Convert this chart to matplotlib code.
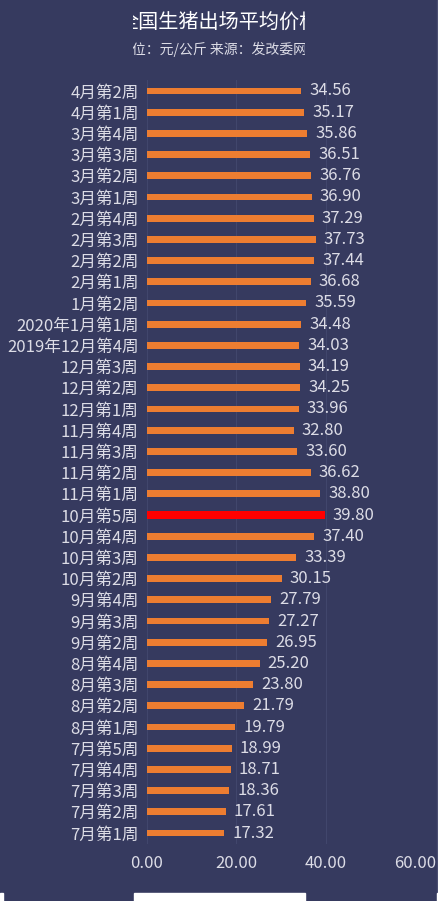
import matplotlib
matplotlib.use('Agg')
import matplotlib.pyplot as plt
from matplotlib.patches import Rectangle

plt.rcParams['font.family'] = ['Noto Sans CJK SC', 'DejaVu Sans']

# weeks from top to bottom as shown
weeks = ['4月第2周', '4月第1周', '3月第4周', '3月第3周', '3月第2周', '3月第1周',
         '2月第4周', '2月第3周', '2月第2周', '2月第1周', '1月第2周', '2020年1月第1周',
         '2019年12月第4周', '12月第3周', '12月第2周', '12月第1周', '11月第4周', '11月第3周',
         '11月第2周', '11月第1周', '10月第5周', '10月第4周', '10月第3周', '10月第2周',
         '9月第4周', '9月第3周', '9月第2周', '8月第4周', '8月第3周', '8月第2周',
         '8月第1周', '7月第5周', '7月第4周', '7月第3周', '7月第2周', '7月第1周']
prices = [34.56, 35.17, 35.86, 36.51, 36.76, 36.90, 37.29, 37.73, 37.44, 36.68,
          35.59, 34.48, 34.03, 34.19, 34.25, 33.96, 32.80, 33.60, 36.62, 38.80,
          39.80, 37.40, 33.39, 30.15, 27.79, 27.27, 26.95, 25.20, 23.80, 21.79,
          19.79, 18.99, 18.71, 18.36, 17.61, 17.32]
highlight = '10月第5周'
xticks = [0, 20, 40, 60]

bg = '#363a5f'
txt = '#dcdce6'

fig = plt.figure(figsize=(4.39, 9.01), dpi=100, facecolor=bg)
ax = fig.add_axes([147 / 439, 1 - 843.6 / 901, 268 / 439, 763.2 / 901])
ax.set_facecolor(bg)

ypos = list(range(len(weeks)))
colors = ['#ff0000' if w == highlight else '#ed7d31' for w in weeks]
heights = [0.40 if w == highlight else 0.33 for w in weeks]
ax.barh(ypos, prices, height=heights, color=colors, zorder=3)
for y, v in zip(ypos, prices):
    ax.text(v + 1.8, y, '%.2f' % v, va='center', ha='left', color=txt, fontsize=12)

ax.set_ylim(len(weeks) - 0.5, -0.5)
ax.set_xlim(0, 60)
ax.set_yticks(ypos)
ax.set_yticklabels(weeks, color=txt, fontsize=12)
ax.set_xticks(xticks)
ax.set_xticklabels(['%.2f' % t for t in xticks], color=txt, fontsize=12)
ax.tick_params(length=0, pad=6)
ax.tick_params(axis='x', pad=8)
for s in ax.spines.values():
    s.set_visible(False)
ax.grid(axis='x', color='#41466c', linewidth=0.8, zorder=0)

# title and subtitle, cropped at both sides as in the picture
clip = Rectangle((133 / 439, 0), 172 / 439, 1, transform=fig.transFigure)
t1 = fig.text(0.50, 1 - 22 / 901, '全国生猪出场平均价格', ha='center', va='center',
              color='white', fontsize=14.5)
t2 = fig.text(0.50, 1 - 49 / 901, '单位：元/公斤 来源：发改委网站', ha='center', va='center',
              color=txt, fontsize=10)
t1.set_clip_path(clip)
t2.set_clip_path(clip)

# white strip at the very bottom
for x0, w in [(0, 3), (134, 171), (437, 2)]:
    fig.patches.append(Rectangle((x0 / 439, 0), w / 439, 8 / 901, transform=fig.transFigure,
                                 color='white', zorder=5))
fig.patches.append(Rectangle((437 / 439, 0), 2 / 439, 1, transform=fig.transFigure,
                             color='#4a4e70', zorder=4))

fig.savefig('out.png', dpi=100, facecolor=bg)
